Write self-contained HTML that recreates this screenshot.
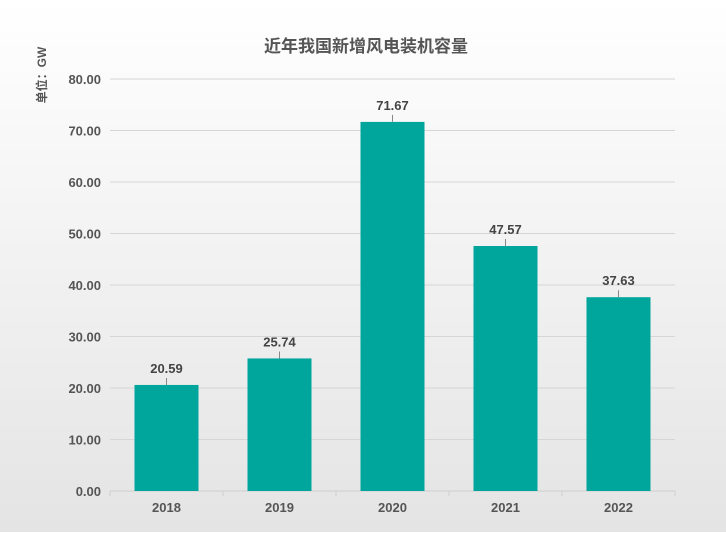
<!DOCTYPE html>
<html><head><meta charset="utf-8"><style>
html,body{margin:0;padding:0}
body{width:726px;height:532px;background:linear-gradient(#ffffff,#e4e4e4);font-family:"Liberation Sans","Noto Sans CJK SC",sans-serif;overflow:hidden}
</style></head><body>
<svg id="chart" width="726" height="532" xmlns="http://www.w3.org/2000/svg">
<text x="366" y="52" text-anchor="middle" font-size="17" font-weight="bold" fill="#555" font-family="Liberation Sans, Noto Sans CJK SC, sans-serif">近年我国新增风电装机容量</text>
<text transform="translate(46,75) rotate(-90)" text-anchor="middle" font-size="12" font-weight="bold" fill="#555" font-family="Liberation Sans, Noto Sans CJK SC, sans-serif">单位：GW</text>
<g id="grid"></g><g id="bars"></g>
</svg>
<script>
const categories=["2018","2019","2020","2021","2022"];
const values=[20.59,25.74,71.67,47.57,37.63];
const yTicks=[0,10,20,30,40,50,60,70,80];
const NS="http://www.w3.org/2000/svg";
const left=110,right=675,y0=491,y80=79,ymax=80;
const step=(right-left)/categories.length;
const xC=i=>left+step*(i+0.5);
const yS=v=>y0-(v/ymax)*(y0-y80);
function mk(t,a,p){const e=document.createElementNS(NS,t);for(const k in a)e.setAttribute(k,a[k]);p.appendChild(e);return e;}
const grid=document.getElementById('grid'),bars=document.getElementById('bars');
yTicks.forEach(v=>{
 if(v>0){const l=mk('line',{x1:left,x2:right,y1:yS(v),y2:yS(v),stroke:'#d6d6d6','stroke-width':1},grid);
 
 }
 const t=mk('text',{x:101,y:yS(v)+5,'text-anchor':'end','font-size':13,'font-weight':'bold',fill:'#555'},grid);
 t.textContent=v.toFixed(2);
 
 
});
const ax=mk('line',{x1:left,x2:right,y1:y0,y2:y0,stroke:'#cfcfcf','stroke-width':1},grid);


for(let i=0;i<=categories.length;i++){const tk=mk('line',{x1:left+step*i,x2:left+step*i,y1:y0,y2:y0+5,stroke:'#cfcfcf'},grid);
 
 }
const bw=64;
categories.forEach((c,i)=>{
 const x=xC(i),y=yS(values[i]);
 const r=mk('rect',{x:x-bw/2,y:y,width:bw,height:y0-y,fill:'#00a59c'},bars);
 
 
 const ln=mk('line',{x1:x,x2:x,y1:y,y2:y-7,stroke:'#888'},bars);
 
 
 const t=mk('text',{x:x,y:y-12,'text-anchor':'middle','font-size':13,'font-weight':'bold',fill:'#444'},bars);
 t.textContent=values[i].toFixed(2);
 
 
 const xl=mk('text',{x:x,y:512,'text-anchor':'middle','font-size':13,'font-weight':'bold',fill:'#555'},bars);
 xl.textContent=c;
 
 
});
</script>
</body></html>
